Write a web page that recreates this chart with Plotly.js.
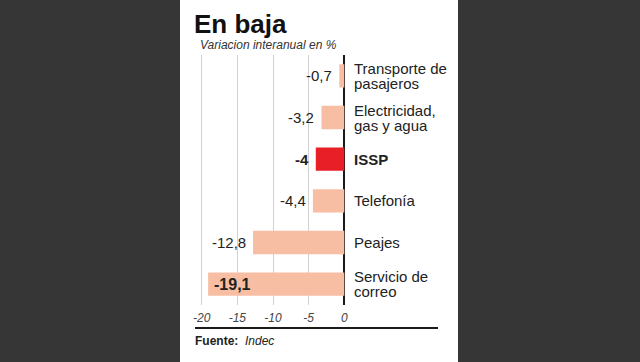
<!DOCTYPE html>
<html><head><meta charset="utf-8">
<script src="https://cdn.plot.ly/plotly-3.0.1.min.js"></script>
<style>html,body{margin:0;padding:0;background:#363636}</style>
</head><body>
<div id="chart" style="width:640px;height:362px"></div>
<script>
const categories = ["Transporte de<br>pasajeros", "Electricidad,<br>gas y agua", "ISSP", "Telefonía", "Peajes", "Servicio de<br>correo"];
const values = [-0.7, -3.2, -4, -4.4, -12.8, -19.1];
const valueLabels = ["-0,7", "-3,2", "-4", "-4,4", "-12,8", "-19,1"];
const highlight = "ISSP";
const tickVals = [-20, -15, -10, -5, 0];
const tickText = ["-20", "-15", "-10", "-5", "0"];

const W = 640, H = 362;
const px = v => v / W, py = v => 1 - v / H;
const FONT = "Liberation Sans, Arial, sans-serif";

const ids = categories.map((c, i) => "c" + i);
const colors = categories.map(c => c === highlight ? "#e81f27" : "#f7bea4");

const trace = {
  type: "bar", orientation: "h",
  x: values, y: ids,
  marker: {color: colors, line: {width: 0}},
  hoverinfo: "none", width: 0.56
};

const annotations = [];
categories.forEach((c, i) => {
  const lines = c.split("<br>");
  const isH = c === highlight;
  const pitch = 15;
  lines.forEach((ln, k) => {
    const off = (k - (lines.length - 1) / 2) * pitch;
    annotations.push({
      x: 0, y: ids[i], xref: "x", yref: "y", xanchor: "left", yanchor: "middle",
      xshift: 8, yshift: -off, showarrow: false,
      text: isH ? "<b>" + ln + "</b>" : ln,
      font: {family: FONT, size: 15, color: "#222"}
    });
  });
  const inside = i === categories.length - 1;
  annotations.push({
    x: values[i], y: ids[i], xref: "x", yref: "y",
    xanchor: inside ? "left" : "right", yanchor: "middle",
    xshift: inside ? 4 : -5, showarrow: false,
    text: (isH || inside) ? "<b>" + valueLabels[i] + "</b>" : valueLabels[i],
    font: {family: FONT, size: inside ? 16 : 15, color: "#222"}
  });
});

annotations.push({
  xref: "paper", yref: "paper", x: px(192), y: py(24), xanchor: "left", yanchor: "middle",
  showarrow: false, text: "<b>En baja</b>",
  font: {family: FONT, size: 26, color: "#111"}
});
annotations.push({
  xref: "paper", yref: "paper", x: px(198), y: py(45), xanchor: "left", yanchor: "middle",
  showarrow: false, text: "<i>Variacion interanual en %</i>",
  font: {family: FONT, size: 12, color: "#333"}
});
annotations.push({
  xref: "paper", yref: "paper", x: px(193), y: py(341), xanchor: "left", yanchor: "middle",
  showarrow: false, text: "<b>Fuente:</b>  <i>Indec</i>",
  font: {family: FONT, size: 12, color: "#222"}
});

const ppu = 7.13, zeroPx = 344.3;
const xr = [-20.2, 0.2];
const layout = {
  width: W, height: H,
  margin: {l: 0, r: 0, t: 0, b: 0},
  paper_bgcolor: "#363636", plot_bgcolor: "rgba(0,0,0,0)",
  showlegend: false, bargap: 0.44,
  xaxis: {
    domain: [px(zeroPx + xr[0] * ppu), px(zeroPx + xr[1] * ppu)],
    range: xr, tickvals: tickVals, ticktext: tickText,
    showgrid: true, gridcolor: "#d2d2d2", gridwidth: 1,
    zeroline: true, zerolinecolor: "#1a1a1a", zerolinewidth: 2,
    showline: false, ticks: "", ticklabelstandoff: 4,
    tickfont: {family: FONT, size: 12, color: "#444", style: "italic"},
    fixedrange: true
  },
  yaxis: {
    domain: [1 - 305 / H, 1 - 55 / H],
    type: "category", autorange: false, range: [5.5, -0.5],
    showticklabels: false, showgrid: false, zeroline: false, ticks: "",
    fixedrange: true
  },
  shapes: [
    {type: "rect", xref: "paper", yref: "paper", x0: px(180), x1: px(458), y0: 0, y1: 1,
     fillcolor: "#ffffff", line: {width: 0}, layer: "below"},
    {type: "line", xref: "paper", yref: "paper", x0: px(195), x1: px(438), y0: py(328), y1: py(328),
     line: {color: "#1a1a1a", width: 2}}
  ],
  annotations: annotations,
  separators: ",."
};

Plotly.newPlot("chart", [trace], layout, {displayModeBar: false, staticPlot: true});
</script>
</body></html>
